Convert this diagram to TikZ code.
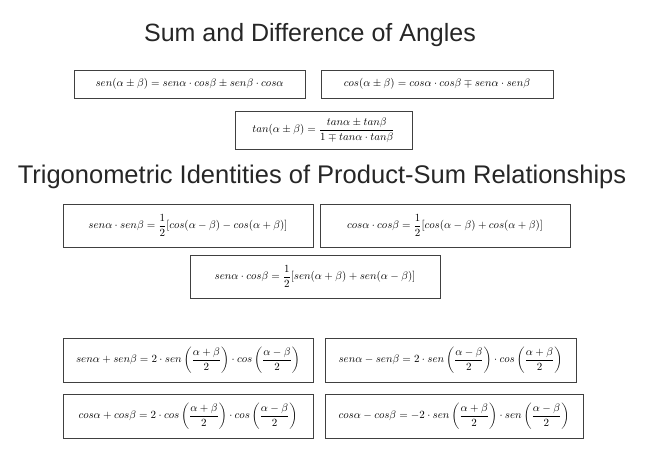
\documentclass[tikz,border=0pt]{standalone}
\usepackage{amsmath}
\usepackage{fontspec}
\newfontfamily\titlefont{Liberation Sans}
\begin{document}
\begin{tikzpicture}[x=1pt,y=-1pt,
  box/.style={draw,draw=black!75,line width=0.8pt,inner sep=1pt,font=\fontsize{10.5}{12}\selectfont},
  ttl/.style={text=black!85}]
\useasboundingbox (0,0) rectangle (645,458);
\node[ttl,font=\titlefont\fontsize{25}{28}\selectfont] (t1) at (310,35) {Sum and Difference of Angles};
\node[box,minimum width=231,minimum height=28] (b1) at (189.5,84) {$sen(\alpha\pm\beta)=sen\alpha\cdot cos\beta\pm sen\beta\cdot cos\alpha$};
\node[box,minimum width=232,minimum height=28] (b2) at (437,84) {$cos(\alpha\pm\beta)=cos\alpha\cdot cos\beta\mp sen\alpha\cdot sen\beta$};
\node[box,minimum width=177,minimum height=38] (b3) at (323.5,130) {$tan(\alpha\pm\beta)=\dfrac{tan\alpha\pm tan\beta}{1\mp tan\alpha\cdot tan\beta}$};
\node[ttl,font=\titlefont\fontsize{25.5}{28}\selectfont] (t2) at (322,177) {Trigonometric Identities of Product-Sum Relationships};
\node[box,minimum width=250,minimum height=43] (b4) at (188,225.5) {$sen\alpha\cdot sen\beta=\dfrac12[cos(\alpha-\beta)-cos(\alpha+\beta)]$};
\node[box,minimum width=250,minimum height=43] (b5) at (445,225.5) {$cos\alpha\cdot cos\beta=\dfrac12[cos(\alpha-\beta)+cos(\alpha+\beta)]$};
\node[box,minimum width=250,minimum height=43] (b6) at (315,276.5) {$sen\alpha\cdot cos\beta=\dfrac12[sen(\alpha+\beta)+sen(\alpha-\beta)]$};
\node[box,minimum width=250,minimum height=44] (b7) at (188,360) {$sen\alpha+sen\beta=2\cdot sen\left(\dfrac{\alpha+\beta}{2}\right)\cdot cos\left(\dfrac{\alpha-\beta}{2}\right)$};
\node[box,minimum width=251,minimum height=44] (b8) at (450.5,360) {$sen\alpha-sen\beta=2\cdot sen\left(\dfrac{\alpha-\beta}{2}\right)\cdot cos\left(\dfrac{\alpha+\beta}{2}\right)$};
\node[box,minimum width=250,minimum height=44] (b9) at (188,416) {$cos\alpha+cos\beta=2\cdot cos\left(\dfrac{\alpha+\beta}{2}\right)\cdot cos\left(\dfrac{\alpha-\beta}{2}\right)$};
\node[box,minimum width=258,minimum height=44] (b10) at (454,416) {$cos\alpha-cos\beta=-2\cdot sen\left(\dfrac{\alpha+\beta}{2}\right)\cdot sen\left(\dfrac{\alpha-\beta}{2}\right)$};
\end{tikzpicture}
\end{document}
